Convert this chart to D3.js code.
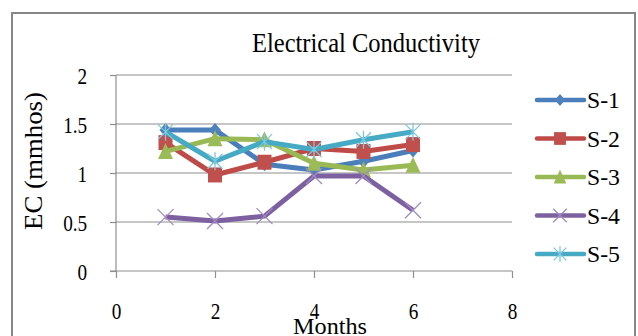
<!DOCTYPE html>
<html>
<head>
<meta charset="utf-8">
<script src="https://cdn.jsdelivr.net/npm/d3@7/dist/d3.min.js"></script>
<style>
  body { margin: 0; background: #fff; }
  svg text { font-family: "Liberation Serif", "DejaVu Serif", serif !important; fill: #000; }
</style>
</head>
<body>
<svg id="chart" width="638" height="336"></svg>
<script>
// Data
const months = [1, 2, 3, 4, 5, 6];
const seriesNames = ['S-1', 'S-2', 'S-3', 'S-4', 'S-5'];
const s1 = [1.44, 1.44, 1.09, 1.03, 1.12, 1.23];
const s2 = [1.31, 0.98, 1.11, 1.25, 1.22, 1.29];
const s3 = [1.22, 1.35, 1.34, 1.10, 1.03, 1.08];
const s4 = [0.55, 0.51, 0.56, 0.97, 0.97, 0.62];
const s5 = [1.42, 1.12, 1.32, 1.24, 1.34, 1.42];
const xTicks = [0, 2, 4, 6, 8];
const yTicks = [0, 0.5, 1, 1.5, 2];

const seriesValues = [s1, s2, s3, s4, s5];
const colors = ['#4a7ebb', '#be4b48', '#98b954', '#7d60a0', '#46aac5'];
const markerColors = ['#4f81bd', '#c0504d', '#9bbb59', '#8064a2', '#4bacc6'];
const shapes = ['diamond', 'square', 'triangle', 'x', 'star'];

const svg = d3.select('#chart');
const serif = '"Liberation Serif", serif';

// frame
svg.append('rect')
    .attr('x', 12).attr('y', 13)
    .attr('width', 623).attr('height', 340)
    .attr('fill', 'none')
    .attr('stroke', '#878787')
    .attr('stroke-width', 2);

const x = d3.scaleLinear().domain([0, 8]).range([116, 512]);
const y = d3.scaleLinear().domain([0, 2]).range([271, 75]);

// gridlines
svg.append('g')
    .selectAll('line')
    .data(yTicks.filter(d => d > 0))
    .join('line')
    .attr('x1', x(0)).attr('x2', x(8))
    .attr('y1', d => y(d)).attr('y2', d => y(d))
    .attr('stroke', '#8e8e8e')
    .attr('stroke-width', 1.2);

// axes
const yAxis = svg.append('g')
    .attr('transform', `translate(${x(0)},0)`)
    .call(d3.axisLeft(y).tickValues(yTicks).tickSize(6).tickFormat(d3.format('')));
const xAxis = svg.append('g')
    .attr('transform', `translate(0,${y(0)})`)
    .call(d3.axisBottom(x).tickValues(xTicks).tickSize(7).tickFormat(d3.format('')));

[yAxis, xAxis].forEach(a => {
    a.attr('font-family', serif);
    a.select('.domain').attr('stroke', '#8e8e8e').attr('stroke-width', 1.2);
    a.selectAll('.tick line').attr('stroke', '#8e8e8e').attr('stroke-width', 1.2);
    a.selectAll('.tick text').attr('font-size', 24).style('font-family', serif);
});
yAxis.select('.domain').attr('d', `M0,${y(2)}V${y(0)}`);
xAxis.select('.domain').attr('d', `M${x(0) - 6},0H${x(8)}`);
yAxis.selectAll('.tick text').attr('x', -36).attr('dy', '0.34em')
    .attr('transform', 'scale(0.8,1)');
xAxis.selectAll('.tick text').attr('y', 0).attr('dy', 0)
    .attr('transform', 'translate(0,48) scale(0.8,1)');

// titles
svg.append('text')
    .attr('x', 252).attr('y', 52)
    .attr('font-size', 28)
    .attr('textLength', 228)
    .attr('lengthAdjust', 'spacingAndGlyphs')
    .style('font-family', serif)
    .text('Electrical Conductivity');

svg.append('text')
    .attr('transform', 'translate(42,161) rotate(-90)')
    .attr('text-anchor', 'middle')
    .attr('font-size', 25)
    .attr('textLength', 138)
    .attr('lengthAdjust', 'spacingAndGlyphs')
    .style('font-family', serif)
    .text('EC (mmhos)');

svg.append('text')
    .attr('x', 330).attr('y', 334)
    .attr('text-anchor', 'middle')
    .attr('font-size', 24)
    .attr('textLength', 74)
    .attr('lengthAdjust', 'spacingAndGlyphs')
    .style('font-family', serif)
    .text('Months');

// markers
function drawMarker(g, shape, cx, cy, i, scale) {
    const c = markerColors[i];
    const k = scale || 1;
    if (shape === 'diamond') {
        g.append('path')
            .attr('d', `M${cx},${cy - 7 * k}L${cx + 6 * k},${cy}L${cx},${cy + 7 * k}L${cx - 6 * k},${cy}Z`)
            .attr('fill', c);
    } else if (shape === 'square') {
        g.append('rect')
            .attr('x', cx - 7 * k).attr('y', cy - 7.5 * k)
            .attr('width', 14 * k).attr('height', 15 * k)
            .attr('fill', c);
    } else if (shape === 'triangle') {
        g.append('path')
            .attr('d', `M${cx},${cy - 8.5 * k}L${cx + 7.5 * k},${cy + 7.5 * k}L${cx - 7.5 * k},${cy + 7.5 * k}Z`)
            .attr('fill', c);
    } else if (shape === 'x') {
        const r = 8 * k;
        g.append('path')
            .attr('d', `M${cx - r},${cy - r}L${cx + r},${cy + r}M${cx - r},${cy + r}L${cx + r},${cy - r}`)
            .attr('stroke', '#a08cc0').attr('stroke-width', 1.3).attr('fill', 'none');
    } else if (shape === 'star') {
        const r = 7.5 * k;
        g.append('path')
            .attr('d', `M${cx - r},${cy - r}L${cx + r},${cy + r}M${cx - r},${cy + r}L${cx + r},${cy - r}M${cx},${cy - r * 1.2}V${cy + r * 1.2}`)
            .attr('stroke', '#7cc8dc').attr('stroke-width', 1.3).attr('fill', 'none');
    }
}

// series
const line = d3.line().x((d, j) => x(months[j])).y(d => y(d));
seriesValues.forEach((vals, i) => {
    const g = svg.append('g').attr('class', 'series');
    g.append('path')
        .datum(vals)
        .attr('d', line)
        .attr('fill', 'none')
        .attr('stroke', colors[i])
        .attr('stroke-width', 5)
        .attr('stroke-linejoin', 'round');
    vals.forEach((v, j) => drawMarker(g, shapes[i], x(months[j]), y(v), i, 1));
});

// legend
const legendY = d3.scalePoint().domain(seriesNames).range([100, 254]);
seriesNames.forEach((name, i) => {
    const ly = legendY(name);
    const g = svg.append('g').attr('class', 'legend');
    g.append('line')
        .attr('x1', 537).attr('x2', 584)
        .attr('y1', ly).attr('y2', ly)
        .attr('stroke', colors[i])
        .attr('stroke-width', 4.5)
        .attr('stroke-linecap', 'round');
    drawMarker(g, shapes[i], 560, ly, i, 0.85);
    g.append('text')
        .attr('x', 587).attr('y', ly)
        .attr('dy', '0.34em')
        .attr('font-size', 24)
        .attr('textLength', 33)
        .attr('lengthAdjust', 'spacingAndGlyphs')
        .style('font-family', serif)
        .text(name);
});
</script>
</body>
</html>
